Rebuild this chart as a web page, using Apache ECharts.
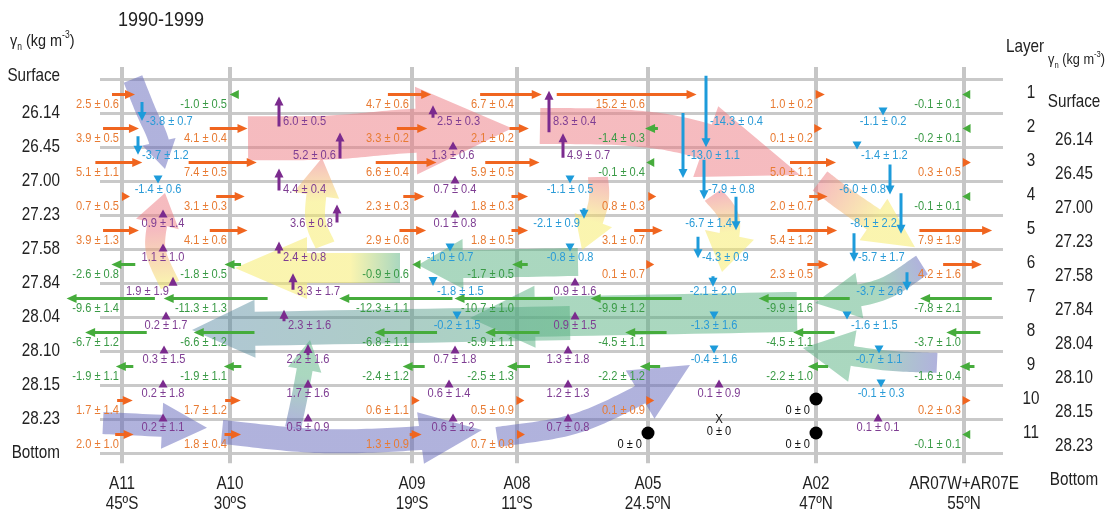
<!DOCTYPE html>
<html><head><meta charset="utf-8">
<script src="https://cdn.jsdelivr.net/npm/echarts@6/dist/echarts.min.js"></script>
<style>html,body{margin:0;padding:0;background:#fff}#c{width:1112px;height:516px}</style>
</head><body><div id="c"></div>
<script>
// ---------------- DATA ----------------
const periodTitle = '1990-1999';
const sections = ['A11', 'A10', 'A09', 'A08', 'A05', 'A02', 'AR07W+AR07E'];
const latitudes = ['45ºS', '30ºS', '19ºS', '11ºS', '24.5ºN', '47ºN', '55ºN'];
const densityLabels = ['Surface', '26.14', '26.45', '27.00', '27.23', '27.58', '27.84', '28.04', '28.10', '28.15', '28.23', 'Bottom'];
const layerNumbers = ['1', '2', '3', '4', '5', '6', '7', '8', '9', '10', '11'];

// Horizontal (meridional) transports per layer 1..11, [value, error] (Sv)
const transA11 = [[2.5,0.6],[3.9,0.5],[5.1,1.1],[0.7,0.5],[3.9,1.3],[-2.6,0.8],[-9.6,1.4],[-6.7,1.2],[-1.9,1.1],[1.7,1.4],[2.0,1.0]];
const transA10 = [[-1.0,0.5],[4.1,0.4],[7.4,0.5],[3.1,0.3],[4.1,0.6],[-1.8,0.5],[-11.3,1.3],[-6.6,1.2],[-1.9,1.1],[1.7,1.2],[1.8,0.4]];
const transA09 = [[4.7,0.6],[3.3,0.2],[6.6,0.4],[2.3,0.3],[2.9,0.6],[-0.9,0.6],[-12.3,1.1],[-6.8,1.1],[-2.4,1.2],[0.6,1.1],[1.3,0.9]];
const transA08 = [[6.7,0.4],[2.1,0.2],[5.9,0.5],[1.8,0.3],[1.8,0.5],[-1.7,0.5],[-10.7,1.0],[-5.9,1.1],[-2.5,1.3],[0.5,0.9],[0.7,0.8]];
const transA05 = [[15.2,0.6],[-1.4,0.3],[-0.1,0.4],[0.8,0.3],[3.1,0.7],[0.1,0.7],[-9.9,1.2],[-4.5,1.1],[-2.2,1.2],[0.1,0.9],[0,0]];
const transA02 = [[1.0,0.2],[0.1,0.2],[5.0,1.1],[2.0,0.7],[5.4,1.2],[2.3,0.5],[-9.9,1.6],[-4.5,1.1],[-2.2,1.0],[0,0],[0,0]];
const transAR07 = [[-0.1,0.1],[-0.2,0.1],[0.3,0.5],[-0.1,0.1],[7.9,1.9],[4.2,1.6],[-7.8,2.1],[-3.7,1.0],[-1.6,0.4],[0.2,0.3],[-0.1,0.1]];

// Diapycnal transports across interfaces 1..10 in each box, [value, error] (Sv)
const diaA11A10 = [[-3.8,0.7],[-3.7,1.2],[-1.4,0.6],[0.9,1.4],[1.1,1.0],[1.9,1.9],[0.2,1.7],[0.3,1.5],[0.2,1.8],[0.2,1.1]];
const diaA10A09 = [[6.0,0.5],[5.2,0.6],[4.4,0.4],[3.6,0.8],[2.4,0.8],[3.3,1.7],[2.3,1.6],[2.2,1.6],[1.7,1.6],[0.5,0.9]];
const diaA09A08 = [[2.5,0.3],[1.3,0.6],[0.7,0.4],[0.1,0.8],[-1.0,0.7],[-1.8,1.5],[-0.2,1.5],[0.7,1.8],[0.6,1.4],[0.6,1.2]];
const diaA08A05 = [[8.3,0.4],[4.9,0.7],[-1.1,0.5],[-2.1,0.9],[-0.8,0.8],[0.9,1.6],[0.9,1.5],[1.3,1.8],[1.2,1.3],[0.7,0.8]];
const diaA05A02 = [[-14.3,0.4],[-13.0,1.1],[-7.9,0.8],[-6.7,1.4],[-4.3,0.9],[-2.1,2.0],[-1.3,1.6],[-0.4,1.6],[0.1,0.9],[0,0]];
const diaA02AR07 = [[-1.1,0.2],[-1.4,1.2],[-6.0,0.8],[-8.1,2.2],[-5.7,1.7],[-3.7,2.6],[-1.6,1.5],[-0.7,1.1],[-0.1,0.3],[0.1,0.1]];

// ---------------- LAYOUT / STYLE ----------------
const FONT = "'Liberation Sans',Arial,sans-serif";
const NARROW = 0.82;
const sectionX = [122, 230, 412, 517, 648, 816, 964];
const gapArrowX = [
  [142,138,158,163,163,173,166,164,163,163],
  [279,340,279,337,279,293,284,308,308,308],
  [433,453,455,455,450,433,457,455,449,453],
  [549,563,570,584,570,575,575,568,568,568],
  [706,683,704,736,698,713,714,714,719,719],
  [883,857,890,901,854,907,847,879,881,878]
];
const gapLabelSide = [
  ['r','r','b','b','b','l','b','b','b','b'],
  ['r','l','r','l','r','r','r','b','b','b'],
  ['r','b','b','b','b','r','b','b','b','b'],
  ['r','r','b','l','b','b','b','b','b','b'],
  ['r','r','r','l','r','b','b','b','b','b'],
  ['b','r','l','l','r','l','r','b','b','b']
];

const transBySection = [transA11, transA10, transA09, transA08, transA05, transA02, transAR07];
const diaByGap = [diaA11A10, diaA10A09, diaA09A08, diaA08A05, diaA05A02, diaA02AR07];

const ORANGE = '#F0651F', GREEN = '#46AC3C', BLUE = '#1D9BDA', PURPLE = '#7B2B8E';
const ORANGE_T = '#E87B33', GREEN_T = '#3A9A46', BLUE_T = '#2A9BD7', PURPLE_T = '#7E3D92';

const PINK = 'rgba(236,120,128,0.5)', YEL = 'rgba(246,234,96,0.5)', GRN = 'rgba(86,176,128,0.5)',
      SLATE = 'rgba(98,102,186,0.5)', TEAL = 'rgba(80,130,160,0.45)';

// broad schematic flow paths: x along section axis, y in layer units
const bigArrows = [
  {pts:[[797,6.85],[470,7.03]], w:40, hw:62, hl:65, stops:[[0,GRN],[1,GRN]]},
  {pts:[[570,7.18],[192,7.38]], w:34, hw:58, hl:63, stops:[[0,GRN],[0.5,'rgba(84,150,140,0.48)'],[1,TEAL]]},
  {pts:[[578,5.38],[418,5.47]], w:28, hw:50, hl:45, stops:[[0,GRN],[1,GRN]]},
  {pts:[[400,5.56],[235,5.56]], w:30, hw:62, hl:72, stops:[[0,GRN],[0.3,YEL],[1,YEL]]},
  {pts:[[922,5.47],[880,6.21],[815,6.59]], w:22, hw:46, hl:45, stops:[[0,SLATE],[0.45,GRN],[1,GRN]]},
  {pts:[[937,8.35],[880,8.26],[803,7.91]], w:20, hw:52, hl:50, stops:[[0,SLATE],[0.5,GRN],[1,GRN]]},
  {pts:[[133,0.0],[146,0.95],[158,1.75],[165,2.65]], w:20, hw:34, hl:28, stops:[[0,SLATE],[1,SLATE]]},
  {pts:[[170,6.06],[157,5.2],[156,4.5],[165,3.35]], w:20, hw:44, hl:32, stops:[[0,YEL],[0.6,PINK],[1,PINK]]},
  {pts:[[248,1.74],[330,1.72],[415,1.52],[512,1.45]], w:44, hw:88, hl:96, stops:[[0,PINK],[1,PINK]]},
  {pts:[[540,1.38],[630,1.44],[700,1.79],[800,2.82]], w:36, hw:75, hl:100, stops:[[0,PINK],[1,PINK]]},
  {pts:[[820,3.0],[852,3.7],[915,4.95]], w:24, hw:50, hl:50, stops:[[0,PINK],[0.6,YEL],[1,YEL]]},
  {pts:[[598,2.88],[598,3.7],[582,5.03]], w:20, hw:40, hl:32, stops:[[0,PINK],[0.6,YEL],[1,YEL]]},
  {pts:[[713,3.41],[730,4.2],[722,5.68]], w:20, hw:50, hl:38, stops:[[0,PINK],[0.5,YEL],[1,YEL]]},
  {pts:[[325,4.88],[315,4.0],[322,2.32]], w:20, hw:46, hl:38, stops:[[0,YEL],[0.5,YEL],[1,PINK]]},
  {pts:[[103,10.12],[207,10.26]], w:22, hw:46, hl:45, stops:[[0,SLATE],[1,SLATE]]},
  {pts:[[222,10.38],[320,10.65],[420,10.56],[482,10.32]], w:24, hw:52, hl:62, stops:[[0,SLATE],[1,SLATE]]},
  {pts:[[293,10.26],[300,9.29],[310,7.68]], w:16, hw:34, hl:30, stops:[[0,SLATE],[0.6,GRN],[1,GRN]]},
  {pts:[[497,10.53],[570,10.18],[630,9.44],[690,8.41]], w:20, hw:56, hl:58, stops:[[0,SLATE],[1,SLATE]]}
];

// ---------------- HELPERS ----------------
function fmt(v, e) { return v.toFixed(1) + ' ± ' + e.toFixed(1); }
function txt(s, x, y, align, color, size, sx) {
  return {type:'text', x:x, y:y, scaleX:(sx || 0.88),
    style:{text:s, x:0, y:0, align:align, verticalAlign:'middle', fill:color, font:(size||12.6)+'px '+FONT}};
}
function arrow(x0, y0, x1, y1, color, lw, hl, hh) {
  const dx = x1-x0, dy = y1-y0, L = Math.hypot(dx, dy) || 1, ux = dx/L, uy = dy/L;
  const h = Math.min(hl, L), bx = x1-ux*h, by = y1-uy*h, out = [];
  if (L > h + 0.5) out.push({type:'line', shape:{x1:x0, y1:y0, x2:bx+ux, y2:by+uy}, style:{stroke:color, lineWidth:lw}});
  out.push({type:'polygon', shape:{points:[[x1,y1],[bx-uy*hh, by+ux*hh],[bx+uy*hh, by-ux*hh]]}, style:{fill:color}});
  return out;
}
function catmull(p, steps) {
  const out = [];
  for (let i = 0; i < p.length-1; i++) {
    const p0 = p[Math.max(i-1,0)], p1 = p[i], p2 = p[i+1], p3 = p[Math.min(i+2,p.length-1)];
    for (let s = 0; s < steps; s++) {
      const t = s/steps, t2 = t*t, t3 = t2*t;
      const f = k => 0.5*((2*p1[k]) + (-p0[k]+p2[k])*t + (2*p0[k]-5*p1[k]+4*p2[k]-p3[k])*t2 + (-p0[k]+3*p1[k]-3*p2[k]+p3[k])*t3);
      out.push([f(0), f(1)]);
    }
  }
  out.push(p[p.length-1]);
  return out;
}

// ---------------- RENDERERS ----------------
function renderSectionLine(params, api) {
  const x = api.coord([api.value(0), 0])[0];
  const y0 = api.coord([0, -0.35])[1], y1 = api.coord([0, 11.3])[1];
  const yb = api.coord([0, 11])[1];
  const i = api.value(2);
  return {type:'group', children:[
    {type:'line', shape:{x1:x, y1:y0, x2:x, y2:y1}, style:{stroke:'#C6C6C6', lineWidth:4}},
    txt(sections[i], x, yb+31, 'center', '#222', 18.6, NARROW),
    txt(latitudes[i], x, yb+51, 'center', '#222', 18.6, NARROW)
  ]};
}
function renderBig(params, api) {
  const a = bigArrows[api.value(2)];
  const pts = a.pts.map(p => api.coord(p));
  const d = catmull(pts, 20);
  const tip = d[d.length-1];
  let acc = 0, k = d.length-1, base = d[0];
  while (k > 0) {
    const seg = Math.hypot(d[k][0]-d[k-1][0], d[k][1]-d[k-1][1]);
    if (acc + seg >= a.hl) { const t = (a.hl-acc)/seg; base = [d[k][0]+(d[k-1][0]-d[k][0])*t, d[k][1]+(d[k-1][1]-d[k][1])*t]; break; }
    acc += seg; k--;
  }
  const shaft = d.slice(0, k).concat([base]);
  let hx = tip[0]-base[0], hy = tip[1]-base[1]; const hL = Math.hypot(hx,hy)||1; hx/=hL; hy/=hL;
  const left = [], right = [];
  for (let i = 0; i < shaft.length; i++) {
    let tx, ty;
    if (i === shaft.length-1) { tx = hx; ty = hy; }
    else { const pa = shaft[Math.max(i-1,0)], pb = shaft[i+1]; tx = pb[0]-pa[0]; ty = pb[1]-pa[1]; const l = Math.hypot(tx,ty)||1; tx/=l; ty/=l; }
    const nx = -ty, ny = tx;
    left.push([shaft[i][0]+nx*a.w/2, shaft[i][1]+ny*a.w/2]);
    right.push([shaft[i][0]-nx*a.w/2, shaft[i][1]-ny*a.w/2]);
  }
  const nx = -hy, ny = hx;
  const poly = left.concat([[base[0]+nx*a.hw/2, base[1]+ny*a.hw/2], tip, [base[0]-nx*a.hw/2, base[1]-ny*a.hw/2]]).concat(right.reverse());
  const grad = new echarts.graphic.LinearGradient(pts[0][0], pts[0][1], tip[0], tip[1],
    a.stops.map(s => ({offset:s[0], color:s[1]})), true);
  return {type:'polygon', shape:{points:poly}, style:{fill:grad}};
}
function renderH(params, api) {
  const s = api.value(2), l = api.value(3);
  const v = transBySection[s][l][0], e = transBySection[s][l][1];
  const lx = api.coord([sectionX[s], 0])[0];
  const top = api.coord([0, l])[1];
  const ch = [];
  if (v === 0 && e === 0) {
    ch.push({type:'circle', shape:{cx:lx, cy:top+14, r:6.5}, style:{fill:'#000'}});
    ch.push(txt('0 ± 0', lx-6, top+26, 'right', '#111'));
  } else {
    const av = Math.abs(v);
    const len = Math.max(av*9.2, 8);
    const r = lx + 6 + 2.8*av, lft = r - len, y = top + 15.5;
    const col = v > 0 ? ORANGE : GREEN;
    ch.push(...(v > 0 ? arrow(lft, y, r, y, col, 3, 10, 4.5) : arrow(r, y, lft, y, col, 3, 10, 4.5)));
    ch.push(txt(fmt(v, e), lx-3, top+25.5, 'right', v > 0 ? ORANGE_T : GREEN_T));
  }
  return {type:'group', children:ch};
}
function renderV(params, api) {
  const g = api.value(2), b = api.value(3);
  const v = diaByGap[g][b][0], e = diaByGap[g][b][1];
  const x = api.coord([gapArrowX[g][b], 0])[0];
  const by = api.coord([0, b+1])[1];
  const ch = [];
  if (v === 0 && e === 0) {
    ch.push(txt('X', x, by, 'center', '#111', 13));
    ch.push(txt('0 ± 0', x, by+13, 'center', '#111'));
  } else {
    const av = Math.abs(v), len = Math.max(av*5, 8), cy = by - 1.5;
    const col = v > 0 ? PURPLE : BLUE;
    const ya = v > 0 ? cy+len/2 : cy-len/2, yb2 = v > 0 ? cy-len/2 : cy+len/2;
    ch.push(...arrow(x, ya, x, yb2, col, 3, 9, 4.5));
    const side = gapLabelSide[g][b];
    const tc = v > 0 ? PURPLE_T : BLUE_T;
    if (side === 'r') ch.push(txt(fmt(v,e), x+4, by+9, 'left', tc));
    else if (side === 'l') ch.push(txt(fmt(v,e), x-4, by+9, 'right', tc));
    else ch.push(txt(fmt(v,e), x, by+9, 'center', tc));
  }
  return {type:'group', children:ch};
}
function renderSide(params, api) {
  const k = api.value(2);
  const ch = [];
  const yb = api.coord([0, k])[1];
  ch.push(txt(densityLabels[k], 60, yb - (k === 0 ? 3 : 0), 'right', '#222', 18.6, NARROW));
  ch.push(txt(densityLabels[k], 1074, yb + (k === 0 ? 23 : 27), 'center', '#222', 18.6, NARROW));
  if (k < layerNumbers.length) {
    const yc = api.coord([0, k+0.5])[1];
    ch.push(txt(layerNumbers[k], 1031, yc-3, 'center', '#222', 18.6, NARROW));
  }
  return {type:'group', children:ch};
}

// ---------------- DATA ITEMS ----------------
const secItems = sectionX.map((x, i) => [x, 0, i]);
const bigItems = bigArrows.map((a, i) => [a.pts[0][0], a.pts[0][1], i]);
const hItems = [];
transBySection.forEach((arr, s) => arr.forEach((d, l) => hItems.push([sectionX[s], l, s, l])));
const vItems = [];
diaByGap.forEach((arr, g) => arr.forEach((d, b) => vItems.push([gapArrowX[g][b], b+1, g, b])));
const sideItems = densityLabels.map((d, k) => [1003, k, k]);

const gammaRich = (big, small, lh) => ({
  a:{fontSize:big, fontFamily:FONT, lineHeight:lh, verticalAlign:'middle'},
  s:{fontSize:small, fontFamily:FONT, lineHeight:lh, verticalAlign:'bottom'},
  p:{fontSize:small, fontFamily:FONT, lineHeight:lh, verticalAlign:'top'}
});

const chart = echarts.init(document.getElementById('c'), null, {renderer:'canvas'});
chart.setOption({
  backgroundColor:'#fff',
  animation:false,
  grid:{left:100, right:109, top:79, bottom:63},
  xAxis:{type:'value', min:100, max:1003, show:false},
  yAxis:{type:'value', min:0, max:11, interval:1, inverse:true,
    axisLine:{show:false}, axisTick:{show:false}, axisLabel:{show:false},
    splitLine:{show:true, lineStyle:{color:'#C9C9C9', width:3}}},
  graphic:[
    {type:'text', x:118, y:10, scaleX:0.9, style:{text:periodTitle, font:'20px '+FONT, fill:'#222'}},
    {type:'text', x:10, y:30, scaleX:0.85, style:{text:'{a|γ}{s|n}{a| (kg m}{p|-3}{a|)}', font:'17px '+FONT, fill:'#222', rich:gammaRich(17, 10, 22)}},
    {type:'text', x:1006, y:37, scaleX:NARROW, style:{text:'Layer', font:'18.6px '+FONT, fill:'#222'}},
    {type:'text', x:1048, y:50, scaleX:0.85, style:{text:'{a|γ}{s|n}{a| (kg m}{p|-3}{a|)}', font:'15px '+FONT, fill:'#222', rich:gammaRich(15, 9, 20)}}
  ],
  series:[
    {type:'custom', name:'sections', clip:false, silent:true, renderItem:renderSectionLine, data:secItems, z:1},
    {type:'custom', name:'flows', clip:false, silent:true, renderItem:renderBig, data:bigItems, z:2},
    {type:'custom', name:'lateral', clip:false, silent:true, renderItem:renderH, data:hItems, z:3},
    {type:'custom', name:'diapycnal', clip:false, silent:true, renderItem:renderV, data:vItems, z:4},
    {type:'custom', name:'side', clip:false, silent:true, renderItem:renderSide, data:sideItems, z:4}
  ]
});
</script></body></html>
